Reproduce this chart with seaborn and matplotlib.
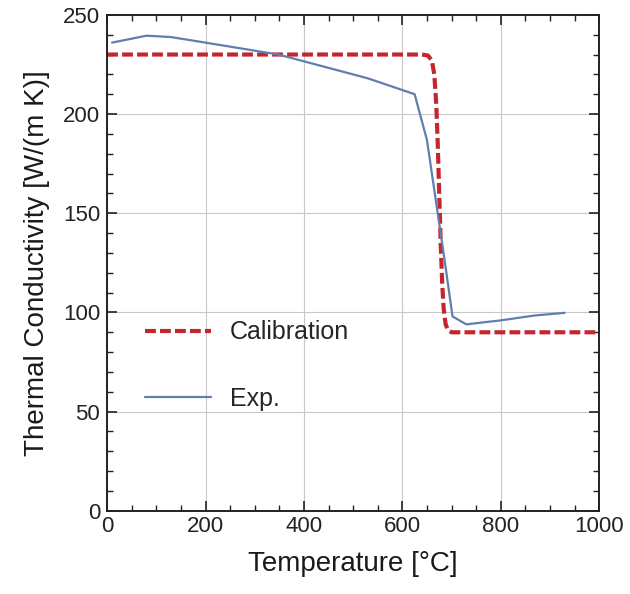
import matplotlib
matplotlib.use("Agg")
import matplotlib.pyplot as plt
from matplotlib.ticker import MultipleLocator
import seaborn as sns
import pandas as pd

# Measured thermal conductivity
exp_temp = [10, 80, 130, 200, 348, 530, 625, 650, 685, 702, 730, 800, 870, 930]
exp_k = [236, 239.5, 238.8, 236, 230, 218, 210, 187, 128, 98, 94, 96, 98.5, 99.8]

# Calibrated conductivity curve
cal_temp = [0, 640, 652, 660, 665, 669, 672, 675, 678, 681, 684, 688, 693, 700, 1000]
cal_k = [230, 230, 229.5, 227, 220, 205, 185, 160, 135, 115, 102, 94, 91, 90, 90]

sns.set_theme(style="white")
plt.rcParams["font.family"] = ["Liberation Sans", "DejaVu Sans"]

fig = plt.figure(figsize=(6.3, 5.94), dpi=100)
ax = fig.add_axes([0.170, 0.140, 0.781, 0.835])

cal = pd.DataFrame({"T": cal_temp, "k": cal_k})
exp = pd.DataFrame({"T": exp_temp, "k": exp_k})

sns.lineplot(data=cal, x="T", y="k", ax=ax, color="#c4262c", lw=3,
             linestyle=(0, (2.6, 1.0)), label="Calibration", sort=False)
sns.lineplot(data=exp, x="T", y="k", ax=ax, color="#5f7fae", lw=1.6,
             label="Exp.", sort=False)

ax.set_xlim(0, 1000)
ax.set_ylim(0, 250)
ax.xaxis.set_major_locator(MultipleLocator(200))
ax.xaxis.set_minor_locator(MultipleLocator(50))
ax.yaxis.set_major_locator(MultipleLocator(50))
ax.yaxis.set_minor_locator(MultipleLocator(10))

ax.grid(True, which="major", color="#c8c8c8", lw=0.8)
for s in ax.spines.values():
    s.set_color("#222222")
    s.set_linewidth(1.4)

ax.tick_params(which="both", direction="in", top=True, right=True,
               bottom=True, left=True, colors="#222222", labelcolor="#222222",
               labelsize=16)
ax.tick_params(axis="y", which="both", pad=5)
ax.tick_params(axis="x", which="both", pad=4)
ax.tick_params(which="major", length=7, width=1.2)
ax.tick_params(which="minor", length=4, width=1.0)

ax.set_xlabel("Temperature [°C]", fontsize=20, labelpad=10, color="#1a1a1a")
ax.set_ylabel("Thermal Conductivity [W/(m K)]", fontsize=20, labelpad=9,
              color="#1a1a1a")

ax.legend(loc="center left", bbox_to_anchor=(0.031, 0.293), frameon=False,
          fontsize=18, handlelength=2.65, labelspacing=1.7, handletextpad=0.75)

fig.savefig("out.png", dpi=100)
